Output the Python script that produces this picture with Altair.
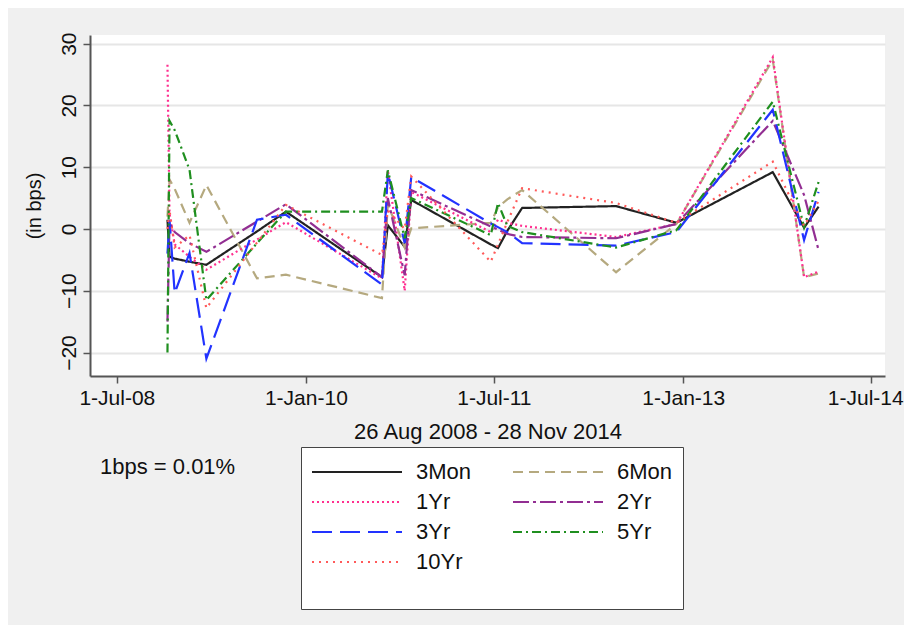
import altair as alt
import pandas as pd

dates = ["2008-11-25", "2008-12-01", "2008-12-16", "2009-01-28", "2009-03-18",
         "2009-08-12", "2009-11-04", "2010-08-10", "2010-08-27", "2010-10-15",
         "2010-11-03", "2011-06-22", "2011-07-13", "2011-08-09", "2011-09-21",
         "2012-06-20", "2012-12-12", "2013-09-18", "2013-12-18", "2014-01-29"]

m3 = [1.5, -4.5, -4.8, -5.3, -5.8, -0.4, 2.8, -7.8, 0.6, -2.9, 4.7, -2.5, -3.1, -0.3, 3.4, 3.7, 1.0, 9.2, 0.2, 3.6]
m6 = [2.0, 8.0, 6.5, 1.0, 7.1, -8.0, -7.4, -11.2, 4.0, -3.0, 0.1, 1.0, 3.5, 4.8, 6.3, -7.0, 0.8, 27.4, -7.8, -7.2]
y1 = [26.6, 2.5, -2.5, -4.5, -6.6, -1.7, 1.1, -8.0, 9.5, -10.0, 6.0, -0.5, 1.5, 1.0, 0.5, -1.3, 0.8, 27.8, -7.8, -6.9]
y2 = [-15.0, 1.0, -0.5, -2.3, -3.7, 1.2, 4.0, -7.8, 5.0, -7.5, 6.3, 0.4, -0.1, -0.8, -1.3, -1.5, 0.8, 17.5, 5.5, -3.4]
y3 = [-4.0, 1.5, -10.4, -3.9, -21.0, 1.5, 2.3, -9.0, 9.1, -2.3, 8.4, 0.9, 0.3, -0.5, -2.3, -2.7, -0.5, 19.3, -1.8, 6.0]
y5 = [-20.0, 17.5, 16.0, 9.6, -11.5, -2.3, 2.8, 2.8, 9.5, -1.5, 5.0, -1.0, 4.2, 0.5, -0.5, -3.0, -0.2, 20.6, 0.3, 7.6]
y10 = [0.0, 3.0, -3.0, -1.0, -12.8, -2.2, 3.9, -4.2, 3.0, 0.0, 8.5, -5.3, -2.5, 1.1, 6.6, 4.2, 1.0, 10.9, 0.5, 4.5]

names = ["3Mon", "6Mon", "1Yr", "2Yr", "3Yr", "5Yr", "10Yr"]
colors = ["#222222", "#b5a97f", "#ff2f8f", "#922e92", "#2233ff", "#1f8f1f", "#ff5a5a"]
dashes = [[1, 0], [10, 6], [2, 3], [16, 4, 3, 4], [20, 8], [9, 4, 2, 4], [2, 5]]

y_ticks = [-20, -10, 0, 10, 20, 30]
x_tick_dates = [(2008, 7), (2010, 1), (2011, 7), (2013, 1), (2014, 7)]
x_title = "26 Aug 2008 - 28 Nov 2014"
y_title = "(in bps)"
note = "1bps = 0.01%"

series_vals = [m3, m6, y1, y2, y3, y5, y10]
rows = []
for nm, vals in zip(names, series_vals):
    for d, v in zip(dates, vals):
        rows.append({"date": d, "value": v, "series": nm})
df = pd.DataFrame(rows)

FONT = "Liberation Sans"

leg = alt.Legend(
    orient="none", legendX=211, legendY=412, columns=2, direction="horizontal",
    symbolType="stroke", symbolSize=8100, symbolStrokeWidth=2,
    clipHeight=30, labelOffset=13, labelFontSize=22, labelFont=FONT,
    labelColor="#111111", columnPadding=40, rowPadding=0,
    fillColor="white", strokeColor="#444444", padding=10,
    title=" ", titleOrient="bottom", titleFontSize=18, titlePadding=4,
)

lines = alt.Chart(df).mark_line(strokeWidth=2.2, clip=True).encode(
    x=alt.X("date:T",
            scale=alt.Scale(type="utc",
                            domain=[alt.DateTime(year=2008, month=4, date=14, utc=True),
                                    alt.DateTime(year=2014, month=8, date=10, utc=True)]),
            axis=alt.Axis(values=[alt.DateTime(year=y, month=m, date=1, utc=True) for y, m in x_tick_dates],
                          labelExpr="utcFormat(datum.value, '%-d-%b-%y')",
                          labelOffset={"condition": {"test": "utcyear(datum.value) == 2014", "value": -6},
                                       "value": 0},
                          title=x_title, grid=False, titlePadding=13, titleFontSize=22)),
    y=alt.Y("value:Q", scale=alt.Scale(domain=[-23.8, 31.4], nice=False, zero=False),
            axis=alt.Axis(values=y_ticks, title=y_title, labelAngle=-90, grid=True,
                          titlePadding=14)),
    color=alt.Color("series:N", scale=alt.Scale(domain=names, range=colors), legend=leg),
    strokeDash=alt.StrokeDash("series:N", scale=alt.Scale(domain=names, range=dashes), legend=leg),
)

note_layer = alt.Chart(pd.DataFrame({"t": [note]})).mark_text(
    align="left", baseline="middle", fontSize=22, font=FONT, color="#111111"
).encode(text="t:N", x=alt.value(10), y=alt.value(432))

chart = alt.layer(lines, note_layer).properties(
    width=795, height=341,
    autosize=alt.AutoSizeParams(type="none"),
    padding={"left": 82, "top": 27, "right": 19, "bottom": 249},
    background="#f0f0f0",
).configure_view(
    fill="white", stroke=None
).configure_axis(
    labelFont=FONT, titleFont=FONT, labelFontSize=21, titleFontSize=20,
    labelColor="#111111", titleColor="#111111", titleFontWeight="normal",
    domainColor="#555555", domainWidth=2, tickColor="#555555", tickSize=7,
    tickWidth=1.5, gridColor="#e6e6e6", gridWidth=2, labelPadding=4,
)

chart.save("out.html", embed_options={"renderer": "svg", "actions": False})
